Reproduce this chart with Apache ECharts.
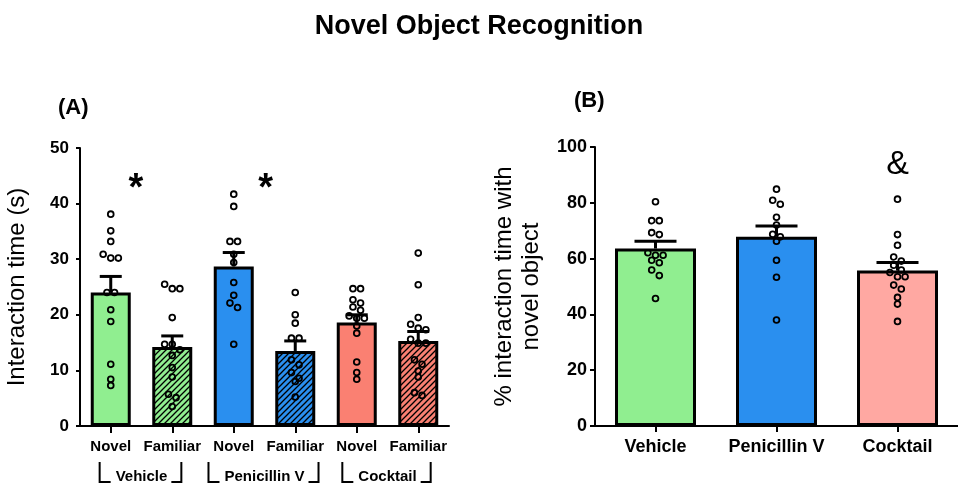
<!DOCTYPE html>
<html><head><meta charset="utf-8">
<script src="https://cdn.jsdelivr.net/npm/echarts@6/dist/echarts.min.js"></script>
<style>html,body{margin:0;padding:0;background:#fff}#c{width:958px;height:487px}</style>
</head><body><div id="c"></div>
<script>
// ---------- data ----------
const titleText = 'Novel Object Recognition';
const panelACategories = ['Novel', 'Familiar', 'Novel', 'Familiar', 'Novel', 'Familiar'];
const panelAGroups = ['Vehicle', 'Penicillin V', 'Cocktail'];
const panelAMeans = [24.0, 14.2, 28.7, 13.5, 18.6, 15.3];
const panelASem = [2.9, 2.0, 2.5, 1.8, 1.4, 1.7];
const vehicleNovel = [38.1, 35.1, 33.2, 30.9, 30.2, 30.2, 24.0, 24.0, 20.9, 18.8, 11.1, 8.4, 7.3];
const vehicleFamiliar = [25.5, 24.7, 24.7, 19.5, 14.7, 14.7, 13.7, 12.7, 10.5, 8.8, 5.7, 5.1, 3.5];
const penNovel = [41.7, 39.5, 33.2, 33.2, 30.9, 29.4, 25.8, 23.5, 22.1, 21.3, 14.7];
const penFamiliar = [24.0, 20.0, 18.5, 15.8, 15.8, 11.9, 11.0, 9.6, 8.6, 8.0, 5.2];
const cocktailNovel = [24.7, 24.7, 22.7, 22.1, 21.4, 20.8, 19.8, 19.4, 19.4, 18.0, 16.7, 11.5, 9.6, 8.4];
const cocktailFamiliar = [31.1, 25.4, 19.5, 18.3, 17.6, 17.3, 15.6, 14.9, 14.9, 11.9, 11.1, 9.9, 8.8, 6.0, 5.5];
const panelATicks = [0, 10, 20, 30, 40, 50];
const panelAMarks = [{cat: 0, shift: 0.41, value: 42.6, text: '*'}, {cat: 2, shift: 0.52, value: 42.6, text: '*'}];

const panelBCategories = ['Vehicle', 'Penicillin V', 'Cocktail'];
const panelBMeans = [63.6, 67.8, 55.7];
const panelBSem = [2.6, 3.9, 2.9];
const bVehicle = [80.4, 73.6, 73.6, 69.3, 68.6, 62.1, 61.2, 61.2, 59.4, 58.5, 55.9, 53.9, 45.7];
const bPen = [84.9, 80.9, 79.5, 74.8, 72.0, 68.7, 67.8, 66.2, 59.4, 53.3, 38.0];
const bCocktail = [81.3, 68.6, 64.8, 60.6, 59.1, 57.6, 55.9, 55.0, 53.5, 53.5, 50.5, 49.1, 46.1, 43.7, 37.5];
const panelBTicks = [0, 20, 40, 60, 80, 100];
const panelBMarks = [{cat: 2, shift: 0, value: 93.6, text: '&'}];

// ---------- style ----------
const FONT = '"Liberation Sans", Arial, sans-serif';
const GREEN = '#90EE90', BLUE = '#2A8FEF', SALMON = '#FA8072', PINK = '#FFA8A2';

function hatch(color) {
  const s = 6, cv = document.createElement('canvas');
  cv.width = s; cv.height = s;
  const g = cv.getContext('2d');
  g.fillStyle = color; g.fillRect(0, 0, s, s);
  g.strokeStyle = '#000'; g.lineWidth = 1.3;
  g.beginPath();
  g.moveTo(0, s); g.lineTo(s, 0);
  g.moveTo(-s / 2, s / 2); g.lineTo(s / 2, -s / 2);
  g.moveTo(s / 2, s * 1.5); g.lineTo(s * 1.5, s / 2);
  g.stroke();
  return {image: cv, repeat: 'repeat'};
}
const panelAColors = [GREEN, hatch(GREEN), BLUE, hatch(BLUE), SALMON, hatch(SALMON)];
const panelBColors = [GREEN, BLUE, PINK];

// simple row-based beeswarm (pixel offsets)
function swarm(values, pxPerUnit, rowPx, stepPx) {
  const idx = values.map((v, i) => i).sort((a, b) => values[b] - values[a]);
  const off = new Array(values.length);
  let row = [], start = null;
  const flush = () => { row.forEach((id, k) => { off[id] = (k - (row.length - 1) / 2) * stepPx; }); row = []; };
  idx.forEach(id => {
    const v = values[id];
    if (start === null || (start - v) * pxPerUnit >= rowPx) { flush(); start = v; }
    row.push(id);
  });
  flush();
  return off;
}

const gA = {left: 80, top: 148, width: 369, height: 278};
const gB = {left: 595, top: 147, width: 372, height: 279};
const aMax = panelATicks[panelATicks.length - 1], bMax = panelBTicks[panelBTicks.length - 1];

function dotData(groups, pxPerUnit) {
  const out = [];
  groups.forEach((vals, ci) => {
    const off = swarm(vals, pxPerUnit, 6, 7.6);
    vals.forEach((v, i) => out.push([ci, v, off[i]]));
  });
  return out;
}
const aDots = dotData([vehicleNovel, vehicleFamiliar, penNovel, penFamiliar, cocktailNovel, cocktailFamiliar], gA.height / aMax);
const bDots = dotData([bVehicle, bPen, bCocktail], gB.height / bMax);

function dotRender(params, api) {
  const c = api.coord([api.value(0), api.value(1)]);
  return {type: 'circle', shape: {cx: c[0] + api.value(2), cy: c[1], r: 2.9},
    style: {fill: 'rgba(0,0,0,0)', stroke: '#000', lineWidth: 1.8}};
}
function errRender(cap) {
  return function (params, api) {
    const x = api.value(0), m = api.value(1), s = api.value(2);
    const p0 = api.coord([x, m]), p1 = api.coord([x, m + s]);
    return {type: 'group', children: [
      {type: 'line', shape: {x1: p0[0], y1: p0[1], x2: p1[0], y2: p1[1]}, style: {stroke: '#000', lineWidth: 3}},
      {type: 'line', shape: {x1: p1[0] - cap / 2, y1: p1[1], x2: p1[0] + cap / 2, y2: p1[1]}, style: {stroke: '#000', lineWidth: 3}}
    ]};
  };
}
function markRender(marks, font) {
  return function (params, api) {
    const m = marks[params.dataIndex];
    const c = api.coord([api.value(0), api.value(1)]);
    const bw = api.size([1, 0])[0];
    return {type: 'text', style: {text: m.text, x: c[0] + m.shift * bw, y: c[1], font: font,
      textAlign: 'center', textVerticalAlign: 'middle', fill: '#000'}};
  };
}
const measureCtx = document.createElement('canvas').getContext('2d');
const GROUP_FONT = 'bold 15px ' + FONT;
function groupRender(params, api) {
  const k = api.value(0);
  const name = panelAGroups[params.dataIndex];
  const xl = api.coord([2 * k, 0]), xr = api.coord([2 * k + 1, 0]);
  const cx = (xl[0] + xr[0]) / 2, y0 = xl[1];
  measureCtx.font = GROUP_FONT;
  const w = measureCtx.measureText(name).width;
  const L = cx - w / 2 - 16, R = cx + w / 2 + 14;
  const top = y0 + 36, bot = y0 + 56;
  const st = {stroke: '#000', lineWidth: 2, fill: null};
  return {type: 'group', children: [
    {type: 'text', style: {text: name, x: cx, y: y0 + 51, font: GROUP_FONT, textAlign: 'center', textVerticalAlign: 'middle', fill: '#000'}},
    {type: 'polyline', shape: {points: [[L, top], [L, bot], [L + 11, bot]]}, style: st},
    {type: 'polyline', shape: {points: [[R - 10, bot], [R, bot], [R, top]]}, style: st}
  ]};
}

const axisLineStyle = {show: true, lineStyle: {color: '#000', width: 2}};

const option = {
  animation: false,
  backgroundColor: '#fff',
  title: [
    {text: titleText, left: 'center', top: 8, textStyle: {fontFamily: FONT, fontWeight: 'bold', fontSize: 27, color: '#000'}},
    {text: '(A)', left: 53, top: 92, textStyle: {fontFamily: FONT, fontWeight: 'bold', fontSize: 22, color: '#000'}},
    {text: '(B)', left: 569, top: 85, textStyle: {fontFamily: FONT, fontWeight: 'bold', fontSize: 22, color: '#000'}}
  ],
  grid: [gA, gB],
  xAxis: [
    {type: 'category', gridIndex: 0, data: panelACategories, axisLine: axisLineStyle,
      axisTick: {show: true, alignWithLabel: true, length: 7, lineStyle: {color: '#000', width: 2}},
      axisLabel: {color: '#000', fontFamily: FONT, fontWeight: 'bold', fontSize: 15, margin: 13, interval: 0}},
    {type: 'category', gridIndex: 1, data: panelBCategories, axisLine: axisLineStyle,
      axisTick: {show: true, alignWithLabel: true, length: 6, lineStyle: {color: '#000', width: 2}},
      axisLabel: {color: '#000', fontFamily: FONT, fontWeight: 'bold', fontSize: 18, margin: 12, interval: 0}}
  ],
  yAxis: [
    {type: 'value', gridIndex: 0, min: panelATicks[0], max: aMax, interval: panelATicks[1] - panelATicks[0],
      name: 'Interaction time (s)', nameLocation: 'middle', nameGap: 51,
      nameTextStyle: {fontFamily: FONT, fontSize: 24, color: '#000'},
      axisLine: axisLineStyle, splitLine: {show: false},
      axisTick: {show: true, length: 4, lineStyle: {color: '#000', width: 2}},
      axisLabel: {color: '#000', fontFamily: FONT, fontWeight: 'bold', fontSize: 17, margin: 11}},
    {type: 'value', gridIndex: 1, min: panelBTicks[0], max: bMax, interval: panelBTicks[1] - panelBTicks[0],
      name: '% interaction time with\nnovel object', nameLocation: 'middle', nameGap: 50,
      nameTextStyle: {fontFamily: FONT, fontSize: 24, color: '#000', lineHeight: 27},
      axisLine: axisLineStyle, splitLine: {show: false},
      axisTick: {show: true, length: 5, lineStyle: {color: '#000', width: 2}},
      axisLabel: {color: '#000', fontFamily: FONT, fontWeight: 'bold', fontSize: 18, margin: 8}}
  ],
  series: [
    {type: 'bar', xAxisIndex: 0, yAxisIndex: 0, barWidth: 40, z: 2,
      data: panelAMeans.map((v, i) => ({value: v, itemStyle: {color: panelAColors[i], borderColor: '#000', borderWidth: 3}}))},
    {type: 'custom', xAxisIndex: 0, yAxisIndex: 0, z: 3, renderItem: errRender(22),
      data: panelAMeans.map((v, i) => [i, v, panelASem[i]]), encode: {x: 0, y: 1}},
    {type: 'custom', xAxisIndex: 0, yAxisIndex: 0, z: 4, renderItem: dotRender, data: aDots, encode: {x: 0, y: 1}},
    {type: 'custom', xAxisIndex: 0, yAxisIndex: 0, z: 5, renderItem: markRender(panelAMarks, 'bold 38px ' + FONT),
      data: panelAMarks.map(m => [m.cat, m.value]), encode: {x: 0, y: 1}},
    {type: 'custom', xAxisIndex: 0, yAxisIndex: 0, z: 5, renderItem: groupRender, clip: false,
      data: panelAGroups.map((g, i) => [i, 0]), encode: {x: 0, y: 1}},

    {type: 'bar', xAxisIndex: 1, yAxisIndex: 1, barWidth: 81, z: 2,
      data: panelBMeans.map((v, i) => ({value: v, itemStyle: {color: panelBColors[i], borderColor: '#000', borderWidth: 3}}))},
    {type: 'custom', xAxisIndex: 1, yAxisIndex: 1, z: 3, renderItem: errRender(42),
      data: panelBMeans.map((v, i) => [i, v, panelBSem[i]]), encode: {x: 0, y: 1}},
    {type: 'custom', xAxisIndex: 1, yAxisIndex: 1, z: 4, renderItem: dotRender, data: bDots, encode: {x: 0, y: 1}},
    {type: 'custom', xAxisIndex: 1, yAxisIndex: 1, z: 5, renderItem: markRender(panelBMarks, '34px ' + FONT),
      data: panelBMarks.map(m => [m.cat, m.value]), encode: {x: 0, y: 1}}
  ]
};
const chart = echarts.init(document.getElementById('c'), null, {renderer: 'canvas'});
chart.setOption(option);
</script>
</body></html>
